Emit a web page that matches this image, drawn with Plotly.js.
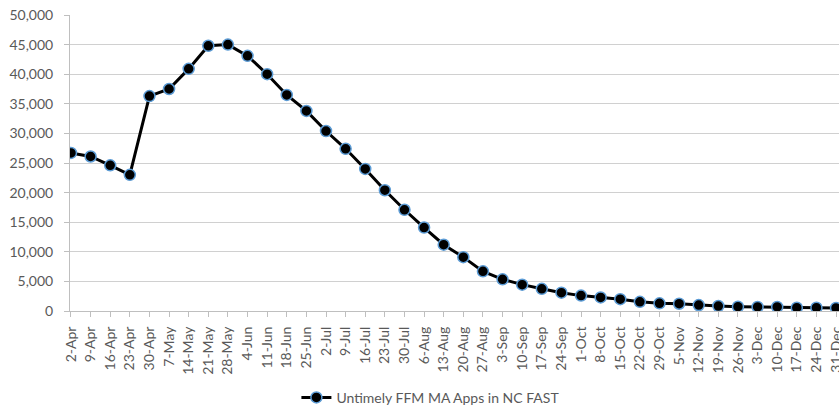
<!DOCTYPE html>
<html>
<head>
<meta charset="utf-8">
<script src="https://cdn.plot.ly/plotly-3.0.1.min.js"></script>
<style>html,body{margin:0;padding:0;background:#fff;}#chart{width:839px;height:408px;}</style>
</head>
<body>
<div id="chart"></div>
<script>
const weeks = ["2-Apr","9-Apr","16-Apr","23-Apr","30-Apr","7-May","14-May","21-May","28-May",
  "4-Jun","11-Jun","18-Jun","25-Jun","2-Jul","9-Jul","16-Jul","23-Jul","30-Jul",
  "6-Aug","13-Aug","20-Aug","27-Aug","3-Sep","10-Sep","17-Sep","24-Sep",
  "1-Oct","8-Oct","15-Oct","22-Oct","29-Oct","5-Nov","12-Nov","19-Nov","26-Nov",
  "3-Dec","10-Dec","17-Dec","24-Dec","31-Dec"];
const apps = [26700, 26100, 24600, 23000, 36300, 37500, 40900, 44800, 45000,
  43100, 40000, 36500, 33800, 30400, 27400, 24000, 20400, 17100,
  14100, 11200, 9100, 6700, 5350, 4450, 3750, 3100,
  2600, 2300, 2000, 1550, 1300, 1230, 1000, 840, 730,
  680, 680, 560, 560, 510];
const seriesName = "Untimely FFM MA Apps in NC FAST";

const font = "Lato, 'Open Sans', sans-serif";
const trace = {
  x: weeks, y: apps, type: "scatter", mode: "lines+markers", name: seriesName,
  line: {color: "#000000", width: 3},
  marker: {color: "#000000", size: 11, line: {color: "#5B9BD5", width: 1.5}}
};
const layout = {
  width: 839, height: 408,
  margin: {l: 70, r: 0, t: 15, b: 97},
  paper_bgcolor: "#ffffff", plot_bgcolor: "#ffffff",
  font: {family: font, size: 14, color: "#595959"},
  showlegend: true,
  legend: {orientation: "h", xref: "container", yref: "container", x: 0.513, xanchor: "center",
           y: 0.025, yanchor: "middle", font: {family: font, size: 14, color: "#595959"}},
  xaxis: {type: "category", range: [-0.05, 39.15], tickangle: -90,
          showline: true, linecolor: "#BFBFBF", linewidth: 1,
          ticks: "outside", ticklen: 5, tickcolor: "#BFBFBF",
          ticklabelstandoff: 4,
          showgrid: false, zeroline: false, tickfont: {family: font, size: 14, color: "#595959"}},
  yaxis: {range: [0, 50000], dtick: 5000, tickformat: ",d",
          showline: true, linecolor: "#BFBFBF", linewidth: 1,
          ticks: "outside", ticklen: 5, tickcolor: "#BFBFBF",
          showgrid: true, gridcolor: "#D0D0D0", gridwidth: 1, zeroline: false,
          ticklabelstandoff: 8,
          tickfont: {family: font, size: 14, color: "#595959"}}
};
Plotly.newPlot("chart", [trace], layout, {staticPlot: true, displayModeBar: false});
</script>
</body>
</html>
